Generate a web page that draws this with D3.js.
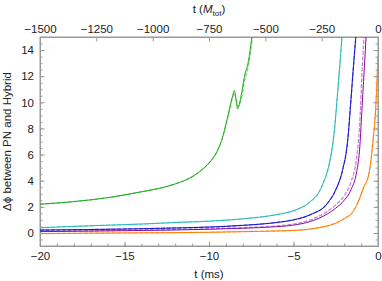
<!DOCTYPE html>
<html>
<head>
<meta charset="utf-8">
<script src="https://cdn.jsdelivr.net/npm/d3@7"></script>
<style>
  body { margin: 0; background: #fff; }
  svg text { font-family: "Liberation Sans", Arial, sans-serif; fill: #222; }
  .axis path, .axis line { stroke: #999; }
</style>
</head>
<body>
<div id="chart"></div>
<script>
// time in ms, phase difference in rad
var greenT  = [-20, -18, -16, -14, -13, -12, -11, -10.5, -10, -9.5, -9.2, -9, -8.8, -8.6, -8.5, -8.4, -8.31, -8.1, -7.9, -7.66, -7.46, -7.4];
var greenV  = [2.2, 2.4, 2.7, 3.15, 3.4, 3.75, 4.3, 4.75, 5.35, 6.3, 7.3, 8.3, 9.4, 10.5, 10.9, 10.2, 9.5, 10.5, 12.0, 13.2, 15.0, 15.5];
var greenDV = [2.2, 2.4, 2.7, 3.15, 3.4, 3.75, 4.3, 4.75, 5.35, 6.3, 7.3, 8.3, 9.4, 10.4, 10.7, 10.3, 9.7, 10.2, 11.6, 12.9, 14.7, 15.3];

var cyanT  = [-20, -17, -14, -12, -10, -8, -6, -5, -4, -3.5, -3.2, -2.9, -2.6, -2.41, -2.25, -2.12];
var cyanV  = [0.4, 0.55, 0.68, 0.8, 0.9, 1.08, 1.4, 1.7, 2.4, 3.1, 3.95, 5.2, 7.6, 10.4, 13, 15.2];

var blueT  = [-20, -15, -12, -10, -8, -6, -5, -4, -3, -2.5, -2.1, -1.8, -1.6, -1.45, -1.3];
var blueV  = [0.22, 0.3, 0.38, 0.45, 0.58, 0.8, 1.0, 1.4, 2.25, 3.3, 4.8, 7.0, 10.2, 12.8, 15.2];

var purpleT  = [-20, -15, -10, -8, -6, -5, -4, -3, -2.5, -2, -1.6, -1.26, -1.1, -0.91, -0.8, -0.7];
var purpleV  = [0.1, 0.17, 0.28, 0.36, 0.48, 0.6, 0.88, 1.45, 1.9, 2.5, 3.3, 4.7, 6.2, 10.4, 12.8, 15.2];
var purpleDV = [0.12, 0.2, 0.32, 0.4, 0.54, 0.68, 1.0, 1.65, 2.15, 2.85, 3.9, 5.8, 8.0, 13.2, 15.6, 17.5];

var orangeT = [-20, -15, -10, -8, -6, -4.6, -3.5, -2.6, -2, -1.44, -1.1, -0.85, -0.6, -0.5, -0.3, -0.1, 0];
var orangeV = [-0.05, 0, 0.05, 0.1, 0.15, 0.22, 0.4, 0.7, 1.1, 1.7, 2.6, 3.5, 4.2, 4.8, 7.0, 10.4, 13.5];

var xTicks = [-20, -15, -10, -5, 0];
var topTicks = [-1500, -1250, -1000, -750, -500, -250, 0];
var yTicks = [0, 2, 4, 6, 8, 10, 12, 14];

var margin = {top: 37, right: 4, bottom: 35, left: 40}
  , width = 382 - margin.left - margin.right
  , height = 281 - margin.top - margin.bottom;

var svg = d3.select("#chart").append("svg")
    .attr("width", 382)
    .attr("height", 281)
  .append("g")
    .attr("transform", "translate(" + margin.left + "," + margin.top + ")");

var xScale = d3.scaleLinear().domain([-20, 0]).range([0, width]);
var topScale = d3.scaleLinear().domain([-1500, 0]).range([0, width]);
var yScale = d3.scaleLinear().domain([-1, 15]).range([height, 0]);

var fmt = function(d) { return d < 0 ? "\u2212" + Math.abs(d) : d; };

// minor ticks first, then major ones on top
svg.append("g").attr("class", "axis")
    .attr("transform", "translate(0," + height + ")")
    .call(d3.axisBottom(xScale).tickValues(d3.range(-20, 1, 1)).tickSize(-2.5).tickFormat(""));
svg.append("g").attr("class", "axis")
    .call(d3.axisLeft(yScale).tickValues(d3.range(-1, 15.1, 0.5)).tickSize(-2.5).tickFormat(""));
svg.append("g").attr("class", "axis")
    .attr("transform", "translate(" + width + ",0)")
    .call(d3.axisRight(yScale).tickValues(d3.range(-1, 15.1, 0.5)).tickSize(-2.5).tickFormat(""));

svg.append("g").attr("class", "axis x")
    .attr("transform", "translate(0," + height + ")")
    .call(d3.axisBottom(xScale).tickValues(xTicks).tickSize(-4.5).tickPadding(6).tickFormat(fmt));
svg.append("g").attr("class", "axis top")
    .call(d3.axisTop(topScale).tickValues(topTicks).tickSize(-4.5).tickPadding(4).tickFormat(fmt));
svg.append("g").attr("class", "axis y")
    .call(d3.axisLeft(yScale).tickValues(yTicks).tickSize(-4.5).tickPadding(6).tickFormat(fmt));
svg.append("g").attr("class", "axis")
    .attr("transform", "translate(" + width + ",0)")
    .call(d3.axisRight(yScale).tickValues(yTicks).tickSize(-4.5).tickFormat(""));

svg.selectAll(".axis text").attr("font-size", 11.5);
svg.selectAll(".axis path").attr("stroke", "#999");

// frame
svg.append("rect")
    .attr("width", width).attr("height", height)
    .attr("fill", "none").attr("stroke", "#999");

svg.append("clipPath").attr("id", "clip")
  .append("rect").attr("width", width).attr("height", height);

var plot = svg.append("g").attr("clip-path", "url(#clip)");

function curve(ts, vs, color, dashed) {
  var pts = ts.map(function(t, i) { return [t, vs[i]]; });
  var line = d3.line()
      .x(function(d) { return xScale(d[0]); })
      .y(function(d) { return yScale(d[1]); })
      .curve(d3.curveMonotoneX);
  plot.append("path")
      .datum(pts)
      .attr("d", line)
      .attr("fill", "none")
      .attr("stroke", color)
      .attr("stroke-width", dashed ? 1.3 : 1)
      .attr("stroke-dasharray", dashed ? "4,1.5" : null)
      .attr("opacity", dashed ? 0.85 : 1);
}

curve(orangeT, orangeV, "#ffa860", true);
curve(orangeT, orangeV, "#ff8000", false);
curve(purpleT, purpleDV, "#c070d0", true);
curve(purpleT, purpleV, "#880c98", false);
curve(blueT, blueV, "#5a5ae6", true);
curve(blueT, blueV, "#1414cc", false);
curve(cyanT, cyanV, "#70d8d8", true);
curve(cyanT, cyanV, "#2ab8b8", false);
curve(greenT, greenDV, "#66cc66", true);
curve(greenT, greenV, "#22aa22", false);

// axis titles
svg.append("text")
    .attr("x", width / 2).attr("y", height + 32)
    .attr("text-anchor", "middle").attr("font-size", 11.5)
    .text("t (ms)");

var tt = svg.append("text")
    .attr("x", width / 2).attr("y", -24)
    .attr("text-anchor", "middle").attr("font-size", 11.5);
tt.append("tspan").text("t (");
tt.append("tspan").attr("font-style", "italic").text("M");
tt.append("tspan").attr("font-size", 8).attr("dy", 3).text("tot");
tt.append("tspan").attr("dy", -3).text(")");

svg.append("text")
    .attr("transform", "translate(-29," + (height / 2) + ") rotate(-90)")
    .attr("text-anchor", "middle").attr("font-size", 11.5)
    .text("\u0394\u03d5 between PN and Hybrid");
</script>
</body>
</html>
